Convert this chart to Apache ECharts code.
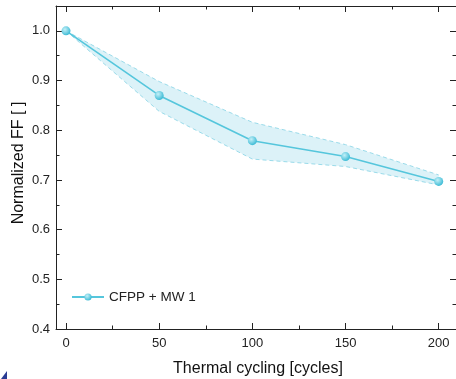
<!DOCTYPE html>
<html><head><meta charset="utf-8">
<script src="https://cdn.jsdelivr.net/npm/echarts@6/dist/echarts.min.js"></script>
<style>html,body{margin:0;padding:0;background:#fff}#c{width:456px;height:379px}</style>
</head><body><div id="c"></div>
<script>
var cycles = [0, 50, 100, 150, 200];
var ffMean = [1.0, 0.870, 0.779, 0.747, 0.697];
var ffUpper = [1.0, 0.898, 0.816, 0.771, 0.710];
var ffLower = [1.0, 0.838, 0.742, 0.727, 0.690];
var seriesName = 'CFPP + MW 1';
var xTitle = 'Thermal cycling [cycles]';
var yTitle = 'Normalized FF [ ]';

var FONT = '"Liberation Sans", Arial, sans-serif';
var AX = '#222';
var YMIN = 0.4, YMAX = 1.05;

function pairs(ys){ return cycles.map(function(x,i){ return [x, ys[i]]; }); }

// frame axes (grid 0): only spines
function frameX(pos){
  return {type:'value', gridIndex:0, position:pos, min:0, max:1,
    axisLine:{show:true, onZero:false, lineStyle:{color:AX,width:1}},
    axisTick:{show:false}, axisLabel:{show:false}, splitLine:{show:false}};
}
// data x axes (grid 1): ticks + labels
function dataX(pos, interval, len, labels){
  return {type:'value', gridIndex:1, position:pos, min:0, max:200, interval:interval,
    axisLine:{show:false, onZero:false},
    axisTick:{show:true, inside:true, length:len, lineStyle:{color:AX,width:1}},
    axisLabel:{show:labels, margin:8, color:'#222', fontSize:13, fontFamily:FONT},
    splitLine:{show:false}};
}
function ya(pos, interval, len, labels, line){
  return {type:'value', gridIndex:0, position:pos, min:YMIN, max:YMAX, interval:interval,
    axisLine:{show:line, onZero:false, lineStyle:{color:AX,width:1}},
    axisTick:{show:true, inside:true, length:len, lineStyle:{color:AX,width:1}},
    axisLabel:{show:labels, showMaxLabel:false, margin:6, color:'#222', fontSize:13, fontFamily:FONT,
      formatter:function(v){ return v.toFixed(1); }},
    splitLine:{show:false}};
}

var markerColor = new echarts.graphic.RadialGradient(0.38, 0.35, 0.65, [
  {offset:0, color:'#c4f0f8'}, {offset:1, color:'#3fbcd6'}]);

function bandRender(params, api){
  var pts = [];
  for (var i = 0; i < cycles.length; i++) pts.push(api.coord([cycles[i], ffUpper[i]]));
  for (var j = cycles.length - 1; j >= 0; j--) pts.push(api.coord([cycles[j], ffLower[j]]));
  return {type:'polygon', shape:{points:pts}, style:{fill:'#dcf2f8', stroke:null}, silent:true};
}

var D = {xAxisIndex:2, yAxisIndex:4};

var chart = echarts.init(document.getElementById('c'), null, {renderer:'canvas'});
chart.setOption({
  animation:false,
  backgroundColor:'#fff',
  grid:[{left:56, top:6, right:0, bottom:50}, {left:66, top:6, width:372.7, bottom:50}],
  xAxis:[frameX('bottom'), frameX('top'),
         dataX('bottom',50,6,true), dataX('bottom',25,3.5,false), dataX('top',50,6,false), dataX('top',25,3.5,false)],
  yAxis:[ya('left',0.1,6,true,true), ya('left',0.05,3.5,false,false), ya('right',0.1,6,false,false), ya('right',0.05,3.5,false,false),
         {type:'value', gridIndex:1, min:YMIN, max:YMAX, show:false}],
  legend:{left:71, top:290, padding:0, itemWidth:32, itemHeight:9, itemGap:10, data:[seriesName],
    textStyle:{fontSize:13.5, color:'#222', fontFamily:FONT}},
  graphic:[
    {type:'text', x:258, y:369, style:{text:xTitle, font:'16px "Liberation Sans", Arial, sans-serif', fill:'#111', align:'center', verticalAlign:'middle'}},
    {type:'text', x:19, y:163, rotation:Math.PI/2, style:{text:yTitle, font:'16px "Liberation Sans", Arial, sans-serif', fill:'#111', align:'center', verticalAlign:'middle'}},
    {type:'polygon', shape:{points:[[1,379],[7,371],[7,379]]}, style:{fill:'#2a3c94'}}
  ],
  series:[
    Object.assign({type:'custom', data:[[0, 1]], renderItem:bandRender, silent:true, z:1, clip:false}, D),
    Object.assign({type:'line', data:pairs(ffUpper), symbol:'none', lineStyle:{color:'#9adbea', width:1, type:[4,3]}, silent:true, z:2}, D),
    Object.assign({type:'line', data:pairs(ffLower), symbol:'none', lineStyle:{color:'#9adbea', width:1, type:[4,3]}, silent:true, z:2}, D),
    Object.assign({name:seriesName, type:'line', data:pairs(ffMean), symbol:'circle', symbolSize:9,
      lineStyle:{color:'#55c6dc', width:1.6}, itemStyle:{color:markerColor, borderWidth:0}, z:5}, D)
  ]
});
</script></body></html>
